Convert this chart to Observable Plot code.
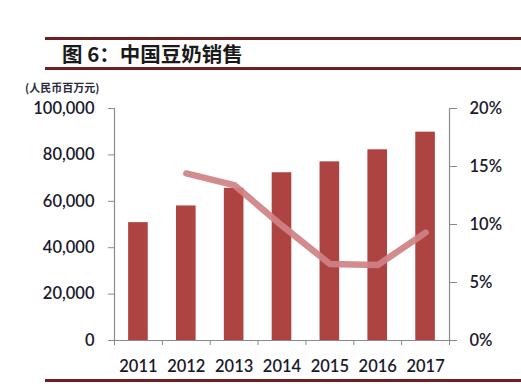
<!DOCTYPE html>
<html>
<head>
<meta charset="utf-8">
<script src="https://cdn.jsdelivr.net/npm/d3@7"></script>
<script src="https://cdn.jsdelivr.net/npm/@observablehq/plot@0.6"></script>
<style>
  body { margin: 0; background: #fff; }
  #wrap { position: relative; width: 521px; height: 387px; overflow: hidden; }
  #wrap svg { position: absolute; left: 0; top: 0; }
  .rule { position: absolute; left: 45px; right: 0; height: 3px; background: #6e1f1f; }
  #title { position: absolute; left: 62px; top: 39px; font-family: "Noto Sans CJK SC", sans-serif; font-weight: 700; font-size: 20.5px; color: #1a1a1a; line-height: 28px; white-space: nowrap; }
  #unit { position: absolute; left: 25px; top: 79px; font-family: "Noto Sans CJK SC", sans-serif; font-weight: 700; font-size: 11px; color: #2a2a3a; line-height: 16px; }
</style>
</head>
<body>
<div id="wrap">
  <div class="rule" style="top:37px"></div>
  <div id="title">图 6：中国豆奶销售</div>
  <div class="rule" style="top:67px"></div>
  <div id="unit">(人民币百万元)</div>
  <div class="rule" style="top:379px"></div>
</div>
<script>
const years = [2011, 2012, 2013, 2014, 2015, 2016, 2017];
const sales = [50800, 58000, 65600, 72300, 77000, 82200, 89800];
const growthYears = [2012, 2013, 2014, 2015, 2016, 2017];
const growth = [14.4, 13.4, 9.9, 6.6, 6.5, 9.3];
const leftTicks = [0, 20000, 40000, 60000, 80000, 100000];
const rightTicks = [0, 5, 10, 15, 20];

const pctToY = 100000 / 20;
const barData = years.map((y, i) => ({year: y, sales: sales[i]}));
const lineData = growthYears.map((y, i) => ({year: y, v: growth[i] * pctToY}));
const bounds = d3.range(years.length + 1).map(i => years[0] - 0.5 + i);

const font = "Lato, 'Open Sans', sans-serif";
const textColor = "#1a1a2c";
const axisColor = "#8a8a8a";

const chart = Plot.plot({
  width: 521,
  height: 387,
  marginLeft: 114,
  marginRight: 72,
  marginTop: 108,
  marginBottom: 47,
  style: {fontFamily: font, fontSize: "16.5px", fontWeight: 600, color: textColor, background: "transparent"},
  x: {type: "linear", domain: [years[0] - 0.5, years[years.length - 1] + 0.5]},
  y: {domain: [0, 100000]},
  marks: [
    Plot.rectY(barData, {x1: d => d.year - 0.205, x2: d => d.year + 0.205, y: "sales", fill: "#ad4442"}),
    Plot.line(lineData, {x: "year", y: "v", stroke: "#cf8284", strokeWidth: 6.5, strokeOpacity: 0.92, strokeLinejoin: "round", strokeLinecap: "round"}),
    Plot.ruleX([bounds[0], bounds[bounds.length - 1]], {stroke: axisColor, strokeWidth: 1.2}),
    Plot.ruleY([0], {stroke: axisColor, strokeWidth: 1.2}),
    Plot.axisY({anchor: "left", ticks: leftTicks, tickSize: 6, tickPadding: 14, stroke: axisColor, fill: textColor, tickFormat: d => d3.format(",")(d), label: null}),
    Plot.axisY({anchor: "right", ticks: rightTicks.map(t => t * pctToY), tickSize: 7, tickPadding: 13, stroke: axisColor, fill: textColor, tickFormat: d => Math.round(d / pctToY) + "%", label: null}),
    Plot.axisX({ticks: bounds, tickSize: 5, tickFormat: () => "", stroke: axisColor, label: null}),
    Plot.axisX({ticks: years, tickSize: 0, tickPadding: 20, tickFormat: d => String(d), fill: textColor, label: null})
  ]
});
document.getElementById("wrap").prepend(chart);
</script>
</body>
</html>
